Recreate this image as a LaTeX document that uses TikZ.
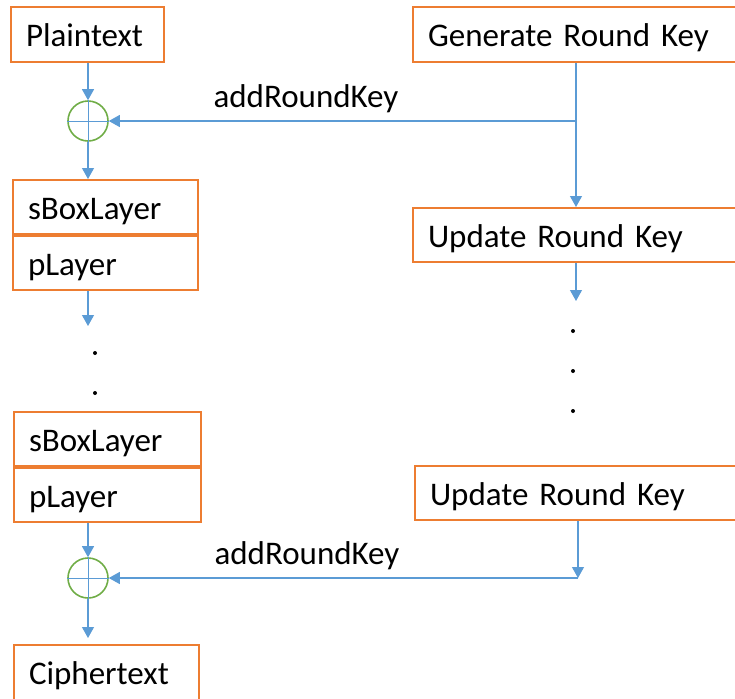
\documentclass[tikz,border=0pt]{standalone}
\usepackage{fontspec}
\setmainfont{Carlito}
\usetikzlibrary{arrows.meta,positioning}
\definecolor{boxorange}{HTML}{ED7D31}
\definecolor{linkblue}{HTML}{5B9BD5}
\definecolor{xorgreen}{HTML}{70AD47}

\begin{document}
\begin{tikzpicture}[
    x=0.5pt, y=-0.5pt,
    >={Triangle[width=6pt,length=5.5pt]},
    box/.style={
        draw=boxorange,
        line width=1pt,
        rectangle,
        anchor=north west,
        inner xsep=7.5pt,
        inner ysep=0pt,
        align=left,
        text height=13pt,
        text depth=1pt,
        font=\fontsize{16.5}{20}\selectfont,
        minimum height=27pt
    },
    xor/.style={
        circle,
        draw=xorgreen,
        line width=0.8pt,
        minimum size=20pt,
        inner sep=0pt
    },
    link/.style={->, draw=linkblue, line width=0.6pt},
    cross/.style={draw=linkblue, line width=0.4pt},
    lbl/.style={font=\fontsize{16.5}{20}\selectfont},
    dotc/.style={circle, fill=black, inner sep=0pt, minimum size=2pt}
]

\useasboundingbox (0,0) rectangle (735,698);
\clip (0,0) rectangle (735,698);

\node[box, text width=61.5pt, minimum height=27.5pt] (plain) at (10,6) {Plaintext};
\node[box, text width=148pt, minimum height=27.5pt] (gen) at (412,6) {Generate Round Key};

\node[xor] (xor1) at (88,121) {};
\node[lbl] (ark1) at (306,99) {addRoundKey};

\node[box, text width=77.5pt] (sbox1) at (12,179) {sBoxLayer};
\node[box, text width=77.5pt, below=0pt of sbox1] (play1) {pLayer};
\node[box, text width=148pt] (upd1) at (412,207) {Update Round Key};

\coordinate (lend) at (88,326);
\coordinate[below=19pt of upd1.south] (rend);

\node[dotc] (ldot1) at (95,353) {};
\node[dotc] (ldot2) at (95,393) {};
\node[dotc] (rdot1) at (573,331) {};
\node[dotc] (rdot2) at (573,371) {};
\node[dotc] (rdot3) at (573,411) {};

\node[box, text width=78.5pt] (sbox2) at (13,411) {sBoxLayer};
\node[box, text width=78.5pt, below=0pt of sbox2] (play2) {pLayer};
\node[box, text width=148pt] (upd2) at (414,465) {Update Round Key};

\node[xor] (xor2) at (88,578) {};
\node[lbl] (ark2) at (307,556) {addRoundKey};
\coordinate (key2) at (upd2.south |- xor2);

\node[box, text width=77.5pt, minimum height=27.5pt] (cipher) at (13,644) {Ciphertext};

\draw[cross] (xor1.north) -- (xor1.south);
\draw[cross] (xor1.west) -- (xor1.east);
\draw[cross] (xor2.north) -- (xor2.south);
\draw[cross] (xor2.west) -- (xor2.east);

\draw[link] (plain.south -| xor1) -- (xor1.north);
\draw[link] (gen.south) -- (upd1.north);
\draw[link] (gen.south |- xor1) -- (xor1.east);
\draw[link] (xor1.south) -- (sbox1.north -| xor1);
\draw[link] (play1.south -| xor1) -- (lend);
\draw[link] (upd1.south) -- (rend);

\draw[link] (play2.south -| xor2) -- (xor2.north);
\draw[link] (upd2.south) -- (key2);
\draw[link] (key2) -- (xor2.east);
\draw[link, shorten >=3pt] (xor2.south) -- (cipher.north -| xor2);

\end{tikzpicture}
\end{document}
